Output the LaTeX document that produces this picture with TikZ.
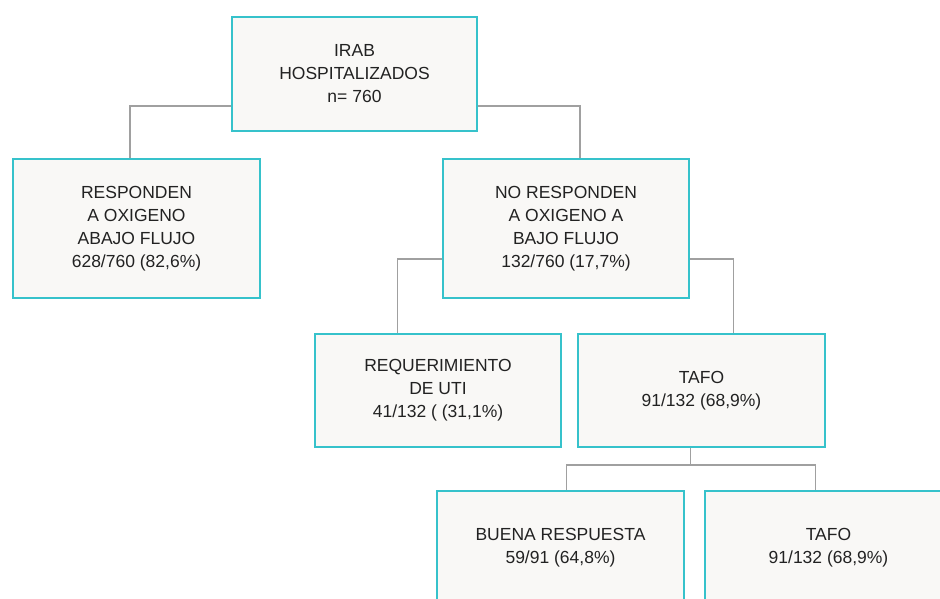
\documentclass[tikz,border=0pt]{standalone}
\usepackage{fontspec}
\usetikzlibrary{backgrounds}
\setmainfont{Liberation Sans}
\definecolor{boxline}{HTML}{36C2CB}
\definecolor{boxfill}{HTML}{F9F8F6}
\definecolor{conline}{HTML}{A0A0A0}
\definecolor{txt}{HTML}{222222}
\tikzset{
  box/.style={draw=boxline, fill=boxfill, line width=2pt, rectangle, align=center,
    inner sep=0pt, text=txt, font=\fontsize{17.5}{23}\selectfont},
  con/.style={draw=conline, line width=1.5pt}
}
\begin{document}
\begin{tikzpicture}[x=1pt,y=-1pt]
\useasboundingbox (0,0) rectangle (940,599);
\clip (0,0) rectangle (940,599);
\coordinate (j) at (690.5,465);
\node[box, minimum width=245pt, minimum height=114pt] (top) at (354.5,74) {IRAB\\HOSPITALIZADOS\\n= 760};
\node[box, minimum width=247pt, minimum height=139pt] (left) at (136.5,228.5) {RESPONDEN\\A OXIGENO\\ABAJO FLUJO\\628/760 (82,6\%)};
\node[box, minimum width=246pt, minimum height=139pt] (right) at (566,228.5) {NO RESPONDEN\\A OXIGENO A\\BAJO FLUJO\\132/760 (17,7\%)};
\node[box, minimum width=246pt, minimum height=113pt] (req) at (438,390.5) {REQUERIMIENTO\\DE UTI\\41/132 ( (31,1\%)};
\node[box, minimum width=247pt, minimum height=113pt] (tafo) at (701.5,390.5) {TAFO\\91/132 (68,9\%)};
\node[box, minimum width=247pt, minimum height=113pt] (buena) at (560.5,547.5) {BUENA RESPUESTA\\59/91 (64,8\%)};
\node[box, minimum width=247pt, minimum height=113pt] (tafo2) at (828.5,547.5) {TAFO\\91/132 (68,9\%)};
\begin{scope}[on background layer]
\fill[white] (0,0) rectangle (940,599);
\draw[con] ([yshift=-32pt]top.west) -| ([xshift=-6.5pt]left.north);
\draw[con] ([yshift=-32pt]top.east) -| ([xshift=14pt]right.north);
\draw[con] ([yshift=-30.5pt]right.west) -| ([xshift=-40.5pt]req.north);
\draw[con] ([yshift=-30.5pt]right.east) -| ([xshift=32pt]tafo.north);
\draw[con] ([xshift=-11pt]tafo.south) -- (j);
\draw[con] ([xshift=6pt]buena.north) |- (j) -| ([xshift=-13pt]tafo2.north);
\end{scope}
\end{tikzpicture}
\end{document}
